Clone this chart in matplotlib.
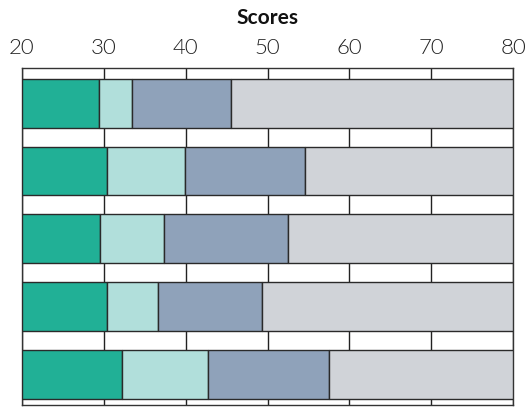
import matplotlib
matplotlib.use("Agg")
import matplotlib.pyplot as plt
import numpy as np

# segment end points for each row (rows top to bottom), axis starts at 20
start = 20
seg1 = [29.4, 30.4, 29.5, 30.4, 32.2]
seg2 = [33.4, 39.9, 37.4, 36.6, 42.7]
seg3 = [45.5, 54.6, 52.5, 49.3, 57.5]
seg4 = [80, 80, 80, 80, 80]
colors = ['#21b096', '#b1dfdb', '#8fa2ba', '#d0d3d8']
xticks = [20, 30, 40, 50, 60, 70, 80]

plt.rcParams['font.family'] = ['Lato', 'DejaVu Sans']

fig = plt.figure(figsize=(5.29, 4.09), dpi=100)
ax = fig.add_axes([22 / 529, 4 / 409, 491 / 529, 337 / 409])

rows = np.arange(len(seg1))
left = np.full(len(seg1), start, dtype=float)
for ends, c in zip([seg1, seg2, seg3, seg4], colors):
    ends = np.array(ends)
    ax.barh(rows, ends - left, left=left, height=0.72, color=c,
            edgecolor='#2a2a2a', linewidth=1, zorder=3)
    left = ends

ax.set_xlim(20, 80)
ax.set_ylim(4.45, -0.52)
ax.set_xticks(xticks)
ax.set_yticks([])
ax.xaxis.tick_top()
ax.tick_params(axis='x', length=0, pad=7, labelsize=16, labelcolor='#222222')
for lbl in ax.get_xticklabels():
    lbl.set_fontweight(300)
ax.grid(axis='x', color='#222222', linewidth=1, zorder=0)
for s in ax.spines.values():
    s.set_color('#333333')
    s.set_linewidth(1)

fig.text(267 / 529, 1 - 18 / 409, 'Scores', ha='center', va='center',
         fontsize=15, fontweight='bold', color='#111111')

plt.savefig("out.png", dpi=100)
